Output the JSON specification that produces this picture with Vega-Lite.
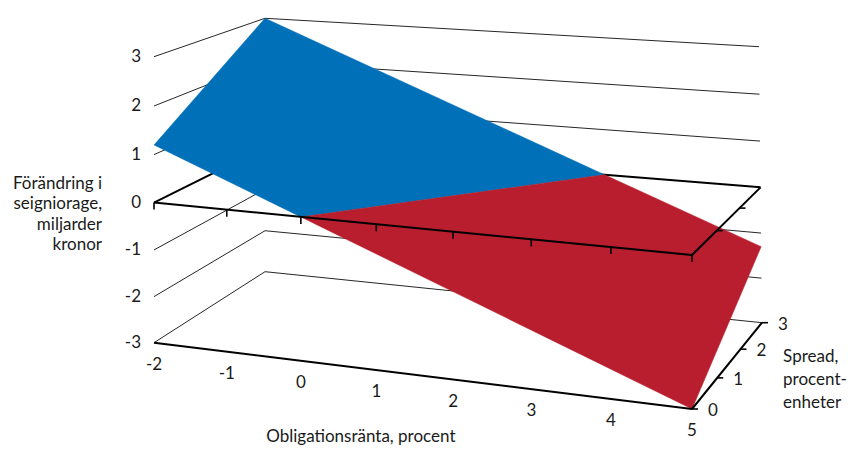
{
  "$schema": "https://vega.github.io/schema/vega-lite/v6.json",
  "width": 848,
  "height": 451,
  "padding": 0,
  "autosize": {"type": "fit", "contains": "padding"},
  "background": "white",
  "config": {"view": {"stroke": null}},
  "data": {"values": [
    {"k":"thin","g":"L-3","i":0,"r":-2,"s":0,"z":-3},{"k":"thin","g":"L-3","i":1,"r":-2,"s":3,"z":-3},
    {"k":"thin","g":"L-2","i":0,"r":-2,"s":0,"z":-2},{"k":"thin","g":"L-2","i":1,"r":-2,"s":3,"z":-2},
    {"k":"thin","g":"L-1","i":0,"r":-2,"s":0,"z":-1},{"k":"thin","g":"L-1","i":1,"r":-2,"s":3,"z":-1},
    {"k":"thin","g":"L1","i":0,"r":-2,"s":0,"z":1},{"k":"thin","g":"L1","i":1,"r":-2,"s":3,"z":1},
    {"k":"thin","g":"L2","i":0,"r":-2,"s":0,"z":2},{"k":"thin","g":"L2","i":1,"r":-2,"s":3,"z":2},
    {"k":"thin","g":"L3","i":0,"r":-2,"s":0,"z":3},{"k":"thin","g":"L3","i":1,"r":-2,"s":3,"z":3},
    {"k":"thin","g":"B-3","i":0,"r":-2,"s":3,"z":-3},{"k":"thin","g":"B-3","i":1,"r":5,"s":3,"z":-3},
    {"k":"thin","g":"B-2","i":0,"r":-2,"s":3,"z":-2},{"k":"thin","g":"B-2","i":1,"r":5,"s":3,"z":-2},
    {"k":"thin","g":"B-1","i":0,"r":-2,"s":3,"z":-1},{"k":"thin","g":"B-1","i":1,"r":5,"s":3,"z":-1},
    {"k":"thin","g":"B1","i":0,"r":-2,"s":3,"z":1},{"k":"thin","g":"B1","i":1,"r":5,"s":3,"z":1},
    {"k":"thin","g":"B2","i":0,"r":-2,"s":3,"z":2},{"k":"thin","g":"B2","i":1,"r":5,"s":3,"z":2},
    {"k":"thin","g":"B3","i":0,"r":-2,"s":3,"z":3},{"k":"thin","g":"B3","i":1,"r":5,"s":3,"z":3},
    {"k":"tb","g":"Lz0","i":0,"r":-2,"s":0,"z":0},{"k":"tb","g":"Lz0","i":1,"r":-2,"s":3,"z":0},
    {"k":"tb","g":"Bz0","i":0,"r":-2,"s":3,"z":0},{"k":"tb","g":"Bz0","i":1,"r":5,"s":3,"z":0},
    {"k":"blue","g":"pos","i":0,"r":-2,"s":0,"z":1.2},
    {"k":"blue","g":"pos","i":1,"r":-2,"s":3,"z":3.0},
    {"k":"blue","g":"pos","i":2,"r":2.88,"s":3,"z":0},
    {"k":"blue","g":"pos","i":3,"r":0,"s":0,"z":0},
    {"k":"red","g":"neg","i":0,"r":0,"s":0,"z":0},
    {"k":"red","g":"neg","i":1,"r":2.88,"s":3,"z":0},
    {"k":"red","g":"neg","i":2,"r":5,"s":3,"z":-1.3},
    {"k":"red","g":"neg","i":3,"r":5,"s":0,"z":-3},
    {"k":"tf","g":"Fz0","i":0,"r":-2,"s":0,"z":0},{"k":"tf","g":"Fz0","i":1,"r":5,"s":0,"z":0},
    {"k":"tf","g":"Rz0","i":0,"r":5,"s":0,"z":0},{"k":"tf","g":"Rz0","i":1,"r":5,"s":3,"z":0},
    {"k":"tf","g":"Fb","i":0,"r":-2,"s":0,"z":-3},{"k":"tf","g":"Fb","i":1,"r":5,"s":0,"z":-3},
    {"k":"tf","g":"Rb","i":0,"r":5,"s":0,"z":-3},{"k":"tf","g":"Rb","i":1,"r":5,"s":3,"z":-3},
    {"k":"xt","r":-2,"s":0,"z":0},{"k":"xt","r":-1,"s":0,"z":0},{"k":"xt","r":0,"s":0,"z":0},{"k":"xt","r":1,"s":0,"z":0},
    {"k":"xt","r":2,"s":0,"z":0},{"k":"xt","r":3,"s":0,"z":0},{"k":"xt","r":4,"s":0,"z":0},{"k":"xt","r":5,"s":0,"z":0},
    {"k":"st","r":5,"s":0,"z":-3},{"k":"st","r":5,"s":1,"z":-3},{"k":"st","r":5,"s":2,"z":-3},{"k":"st","r":5,"s":3,"z":-3},
    {"k":"st","r":5,"s":1,"z":0},{"k":"st","r":5,"s":2,"z":0},
    {"k":"zl","r":-2,"s":0,"z":-3,"label":"-3"},{"k":"zl","r":-2,"s":0,"z":-2,"label":"-2"},{"k":"zl","r":-2,"s":0,"z":-1,"label":"-1"},
    {"k":"zl","r":-2,"s":0,"z":0,"label":"0"},{"k":"zl","r":-2,"s":0,"z":1,"label":"1"},{"k":"zl","r":-2,"s":0,"z":2,"label":"2"},{"k":"zl","r":-2,"s":0,"z":3,"label":"3"},
    {"k":"xl","r":-2,"s":0,"z":-3,"label":"-2"},{"k":"xl","r":-1,"s":0,"z":-3,"label":"-1"},{"k":"xl","r":0,"s":0,"z":-3,"label":"0"},{"k":"xl","r":1,"s":0,"z":-3,"label":"1"},
    {"k":"xl","r":2,"s":0,"z":-3,"label":"2"},{"k":"xl","r":3,"s":0,"z":-3,"label":"3"},{"k":"xl","r":4,"s":0,"z":-3,"label":"4"},{"k":"xl","r":5,"s":0,"z":-3,"label":"5"},
    {"k":"sl","r":5,"s":0,"z":-3,"label":"0"},{"k":"sl","r":5,"s":1,"z":-3,"label":"1"},{"k":"sl","r":5,"s":2,"z":-3,"label":"2"},{"k":"sl","r":5,"s":3,"z":-3,"label":"3"},
    {"k":"tz","r":-2,"s":0,"z":-0.25,"label":"Förändring i\nseigniorage,\nmiljarder\nkronor"},
    {"k":"tx","r":0.9,"s":0,"z":-3,"label":"Obligationsränta, procent"},
    {"k":"ts","r":5,"s":1.5,"z":-3,"label":"Spread,\nprocent-\nenheter"}
  ]},
  "transform": [
    {"calculate": "(datum.r+2)/7", "as": "u"},
    {"calculate": "datum.s/3", "as": "v"},
    {"calculate": "(datum.z+3)/6", "as": "w"},
    {"calculate": "1 - 0.06*datum.u + 0.12*datum.v - 0.04*datum.w", "as": "D"},
    {"calculate": "((1-datum.u)*(1-datum.v)*(1-datum.w)*154 + datum.u*(1-datum.v)*(1-datum.w)*650.48 + (1-datum.u)*datum.v*(1-datum.w)*296.8 + datum.u*datum.v*(1-datum.w)*807.7 + (1-datum.u)*(1-datum.v)*datum.w*147.84 + datum.u*(1-datum.v)*datum.w*622.8 + (1-datum.u)*datum.v*datum.w*286.2 + datum.u*datum.v*datum.w*774.2)/datum.D", "as": "px"},
    {"calculate": "((1-datum.u)*(1-datum.v)*(1-datum.w)*342.7 + datum.u*(1-datum.v)*(1-datum.w)*384.46 + (1-datum.u)*datum.v*(1-datum.w)*304.3 + datum.u*datum.v*(1-datum.w)*342.06 + (1-datum.u)*(1-datum.v)*datum.w*54.43 + datum.u*(1-datum.v)*datum.w*84.78 + (1-datum.u)*datum.v*datum.w*19.76 + datum.u*datum.v*datum.w*47.63)/datum.D", "as": "py"}
  ],
  "encoding": {
    "x": {"field": "px", "type": "quantitative", "scale": {"domain": [0, 848], "range": [0, 848], "nice": false, "zero": false}, "axis": null},
    "y": {"field": "py", "type": "quantitative", "scale": {"domain": [0, 451], "range": [0, 451], "nice": false, "zero": false}, "axis": null}
  },
  "layer": [
    {"transform": [{"filter": "datum.k=='thin'"}], "mark": {"type": "line", "stroke": "#262626", "strokeWidth": 1}, "encoding": {"detail": {"field": "g"}, "order": {"field": "i"}}},
    {"transform": [{"filter": "datum.k=='tb'"}], "mark": {"type": "line", "stroke": "#000000", "strokeWidth": 2}, "encoding": {"detail": {"field": "g"}, "order": {"field": "i"}}},
    {"transform": [{"filter": "datum.k=='blue'"}], "mark": {"type": "line", "interpolate": "linear-closed", "fill": "#0070B8", "stroke": "#0070B8", "strokeWidth": 0.5}, "encoding": {"detail": {"field": "g"}, "order": {"field": "i"}}},
    {"transform": [{"filter": "datum.k=='red'"}], "mark": {"type": "line", "interpolate": "linear-closed", "fill": "#B81E2D", "stroke": "#B81E2D", "strokeWidth": 0.5}, "encoding": {"detail": {"field": "g"}, "order": {"field": "i"}}},
    {"transform": [{"filter": "datum.k=='tf'"}], "mark": {"type": "line", "stroke": "#000000", "strokeWidth": 2}, "encoding": {"detail": {"field": "g"}, "order": {"field": "i"}}},
    {"transform": [{"filter": "datum.k=='xt'"}], "mark": {"type": "tick", "orient": "vertical", "size": 7, "thickness": 1.6, "yOffset": 3.5, "color": "#000000", "opacity": 1}},
    {"transform": [{"filter": "datum.k=='st'"}], "mark": {"type": "tick", "orient": "horizontal", "size": 6, "thickness": 1.6, "xOffset": 3, "color": "#000000", "opacity": 1}},
    {"transform": [{"filter": "datum.k=='zl'"}], "mark": {"type": "text", "align": "right", "baseline": "middle", "dx": -13, "font": "Lato", "fontSize": 17, "fill": "#1a1a1a"}, "encoding": {"text": {"field": "label"}}},
    {"transform": [{"filter": "datum.k=='xl'"}], "mark": {"type": "text", "align": "center", "baseline": "middle", "dy": 22, "font": "Lato", "fontSize": 17, "fill": "#1a1a1a"}, "encoding": {"text": {"field": "label"}}},
    {"transform": [{"filter": "datum.k=='sl'"}], "mark": {"type": "text", "align": "center", "baseline": "middle", "dx": 21, "dy": 2, "font": "Lato", "fontSize": 17, "fill": "#1a1a1a"}, "encoding": {"text": {"field": "label"}}},
    {"transform": [{"filter": "datum.k=='tz'"}], "mark": {"type": "text", "align": "right", "baseline": "middle", "dx": -52, "dy": -31, "lineBreak": "\n", "lineHeight": 20.5, "font": "Lato", "fontSize": 17, "fill": "#1a1a1a"}, "encoding": {"text": {"field": "label"}}},
    {"transform": [{"filter": "datum.k=='tx'"}], "mark": {"type": "text", "align": "center", "baseline": "middle", "dx": -8, "dy": 68, "font": "Lato", "fontSize": 17, "fill": "#1a1a1a"}, "encoding": {"text": {"field": "label"}}},
    {"transform": [{"filter": "datum.k=='ts'"}], "mark": {"type": "text", "align": "left", "baseline": "middle", "dx": 54, "dy": -6, "lineBreak": "\n", "lineHeight": 23, "font": "Lato", "fontSize": 17, "fill": "#1a1a1a"}, "encoding": {"text": {"field": "label"}}}
  ]
}
